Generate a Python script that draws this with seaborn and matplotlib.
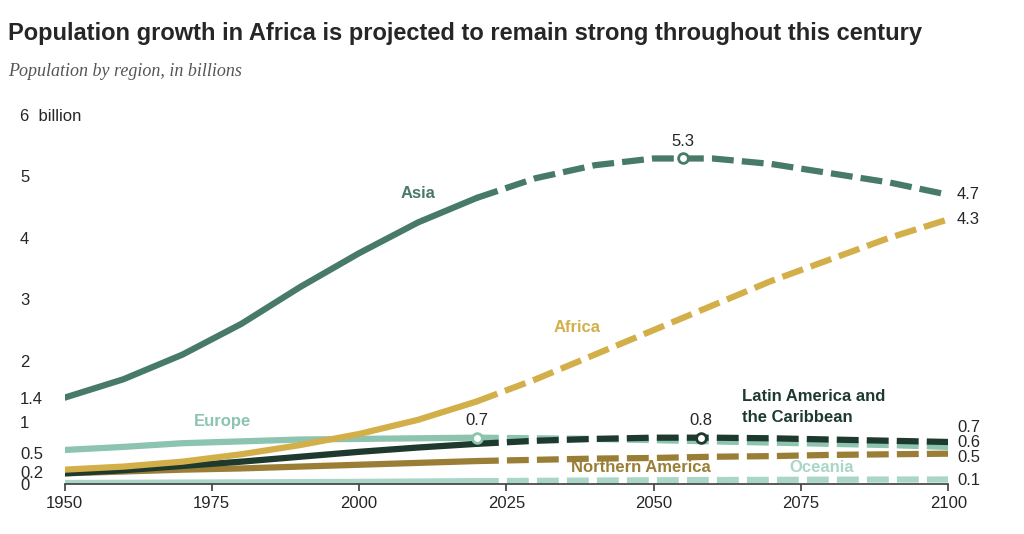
import numpy as np
import pandas as pd
import matplotlib.pyplot as plt
import seaborn as sns

sns.set_theme(style="white")
plt.rcParams['font.family'] = ['Liberation Sans', 'DejaVu Sans']

years = [1950, 1960, 1970, 1980, 1990, 2000, 2010, 2020,
         2030, 2040, 2050, 2060, 2070, 2080, 2090, 2100]
asia = [1.40, 1.70, 2.10, 2.60, 3.20, 3.75, 4.25, 4.65,
        4.97, 5.18, 5.29, 5.29, 5.20, 5.05, 4.90, 4.70]
africa = [0.23, 0.28, 0.36, 0.48, 0.63, 0.81, 1.04, 1.34,
          1.70, 2.10, 2.50, 2.90, 3.30, 3.65, 4.00, 4.30]
europe = [0.55, 0.60, 0.66, 0.69, 0.72, 0.73, 0.74, 0.75,
          0.74, 0.73, 0.71, 0.69, 0.67, 0.65, 0.63, 0.60]
latam = [0.17, 0.22, 0.29, 0.36, 0.44, 0.52, 0.59, 0.65,
         0.70, 0.73, 0.75, 0.75, 0.74, 0.72, 0.70, 0.68]
namerica = [0.17, 0.20, 0.23, 0.25, 0.28, 0.31, 0.34, 0.37,
            0.39, 0.41, 0.42, 0.44, 0.45, 0.47, 0.48, 0.49]
oceania = [0.013, 0.016, 0.020, 0.023, 0.027, 0.031, 0.037, 0.043,
           0.048, 0.053, 0.057, 0.061, 0.064, 0.067, 0.069, 0.07]

series = {"Oceania": (oceania, "#a9d6c6"), "Northern America": (namerica, "#9b7e36"),
          "Europe": (europe, "#8cc4b0"), "Latin America": (latam, "#1e3a2e"),
          "Africa": (africa, "#d3af4a"), "Asia": (asia, "#487a68")}

rows = []
for name, (vals, _) in series.items():
    for y, v in zip(years, vals):
        rows.append({"region": name, "year": y, "pop": v})
df = pd.DataFrame(rows)

fig, ax = plt.subplots(figsize=(10.24, 5.34), dpi=100)
fig.subplots_adjust(left=0.063, right=0.926, top=0.785, bottom=0.094)

for name, (vals, col) in series.items():
    d = df[df.region == name]
    hist = d[d.year <= 2020]
    proj = d[d.year >= 2020]
    sns.lineplot(data=hist, x="year", y="pop", ax=ax, color=col, lw=4.5)
    sns.lineplot(data=proj, x="year", y="pop", ax=ax, color=col, lw=4.5,
                 linestyle=(0, (3.5, 1.3)))

# markers
ax.plot([2020], [0.75], "o", ms=7, mfc="white", mec=series["Europe"][1], mew=2)
ax.plot([2058], [0.75], "o", ms=7, mfc="white", mec=series["Latin America"][1], mew=2)
ax.plot([2055], [5.3], "o", ms=7, mfc="white", mec=series["Asia"][1], mew=2)
ax.text(2020, 0.95, "0.7", ha="center", fontsize=12)
ax.text(2058, 0.95, "0.8", ha="center", fontsize=12)
ax.text(2055, 5.5, "5.3", ha="center", fontsize=12)

for txt, v in [("4.7", 4.70), ("4.3", 4.30), ("0.7", 0.92), ("0.6", 0.67),
               ("0.5", 0.43), ("0.1", 0.05)]:
    ax.text(2101.5, v, txt, va="center", fontsize=12, clip_on=False)

lab = dict(fontsize=12, fontweight="bold")
ax.text(2007, 4.65, "Asia", color=series["Asia"][1], **lab)
ax.text(2033, 2.47, "Africa", color=series["Africa"][1], **lab)
ax.text(1972, 0.94, "Europe", color=series["Europe"][1], **lab)
ax.text(2036, 0.26, "Northern America", color=series["Northern America"][1],
        va="center", **lab)
ax.text(2073, 0.26, "Oceania", color=series["Oceania"][1], va="center", **lab)
ax.text(2065, 1.0, "Latin America and\nthe Caribbean", color=series["Latin America"][1],
        linespacing=1.5, **lab)

ax.set_xlim(1950, 2100)
ax.set_ylim(0, 6)
ax.set_xticks([1950, 1975, 2000, 2025, 2050, 2075, 2100])
yt = [0, 0.2, 0.5, 1, 1.4, 2, 3, 4, 5, 6]
ax.set_yticks(yt)
ax.set_yticklabels(["0", "0.2", "0.5", "1", "1.4", "2", "3", "4", "5", "6  billion"])
for lbl in ax.get_yticklabels():
    lbl.set_horizontalalignment("left")
ax.tick_params(axis="y", length=0, pad=32, labelsize=12)
ax.tick_params(axis="x", length=5, labelsize=12, bottom=True, color="#444")
ax.set_xlabel("")
ax.set_ylabel("")
for s in ["top", "right", "left"]:
    ax.spines[s].set_visible(False)
ax.spines["bottom"].set_color("#444")

fig.text(0.008, 0.925, "Population growth in Africa is projected to remain strong throughout this century",
         fontsize=17, fontweight="bold")
fig.text(0.008, 0.858, "Population by region, in billions", fontsize=13, style="italic",
         family=["Liberation Serif", "DejaVu Serif"], color="#555")

fig.savefig("out.png", dpi=100)
